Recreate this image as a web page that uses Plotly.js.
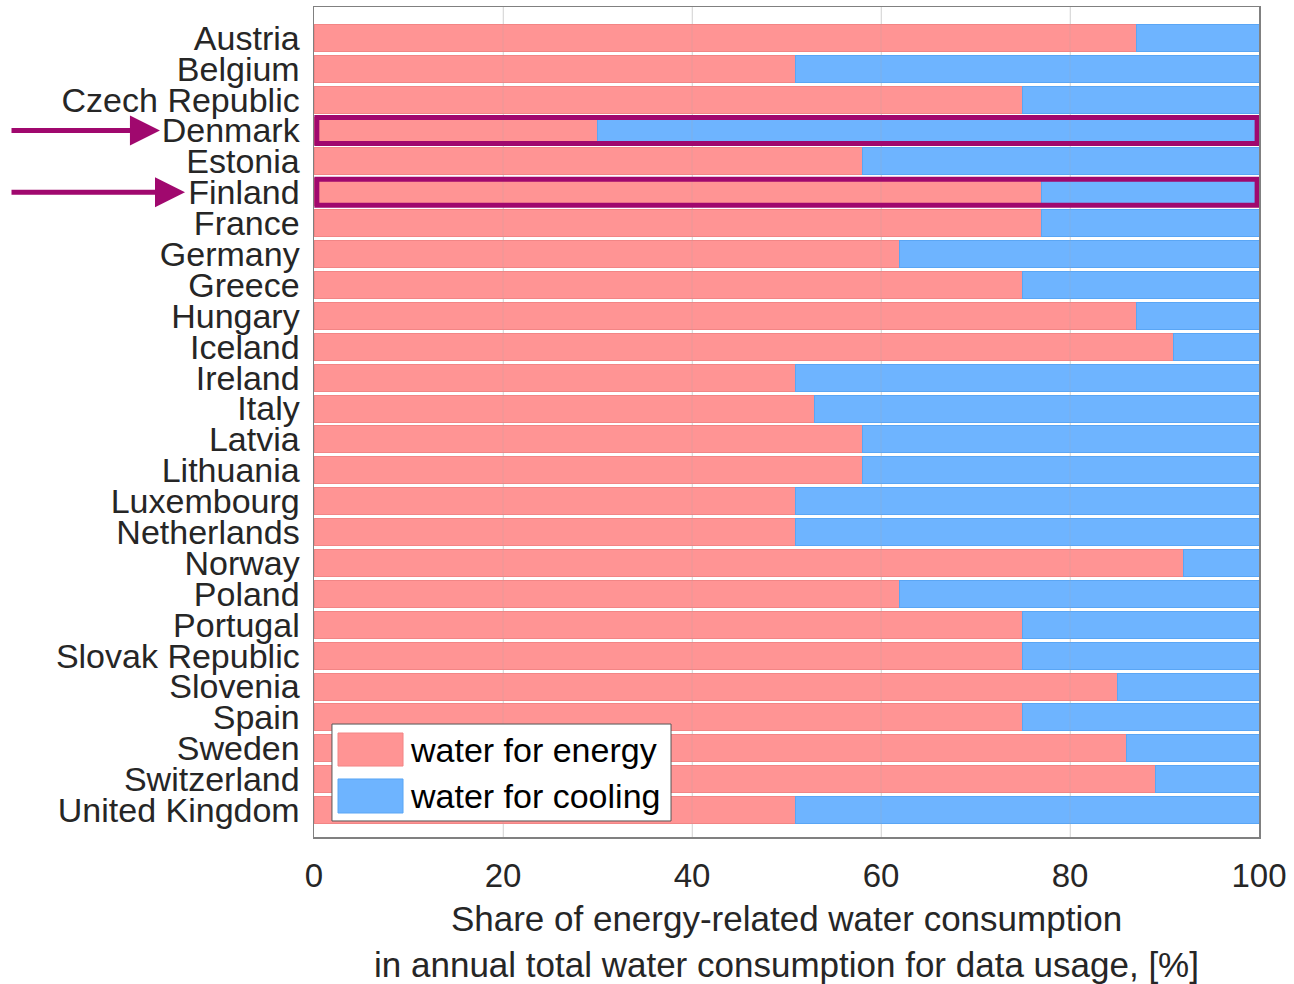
<!DOCTYPE html>
<html>
<head>
<meta charset="utf-8">
<script src="https://cdn.plot.ly/plotly-3.0.1.min.js"></script>
<style>html,body{margin:0;padding:0;background:#fff;}#chart{width:1294px;height:984px;}</style>
</head>
<body>
<div id="chart"></div>
<script>
const countries = ["Austria","Belgium","Czech Republic","Denmark","Estonia","Finland","France","Germany","Greece","Hungary","Iceland","Ireland","Italy","Latvia","Lithuania","Luxembourg","Netherlands","Norway","Poland","Portugal","Slovak Republic","Slovenia","Spain","Sweden","Switzerland","United Kingdom"];
const waterForEnergy = [87,51,75,30,58,77,77,62,75,87,91,51,53,58,58,51,51,92,62,75,75,85,75,86,89,51];
const waterForCooling = waterForEnergy.map(v => 100 - v);
const highlighted = ["Denmark","Finland"];
const xTicks = [0,20,40,60,80,100];
const seriesNames = ["water for energy","water for cooling"];

const RED = "#FF9494", BLUE = "#6EB4FF", PURPLE = "#A0086E";
const FONT = "Liberation Sans, Arial, sans-serif";
const TXT = "#262626";

const traces = [
  {type:"bar", orientation:"h", y:countries, x:waterForEnergy, name:seriesNames[0],
   marker:{color:RED, line:{color:"#F28585", width:1}}, hoverinfo:"x+y"},
  {type:"bar", orientation:"h", y:countries, x:waterForCooling, name:seriesNames[1],
   marker:{color:BLUE, line:{color:"#5AA6F5", width:1}}, hoverinfo:"x+y"}
];

const shapes = [];
xTicks.filter(t => t > 0 && t < 100).forEach(t => {
  shapes.push({type:"line", xref:"x", yref:"paper", x0:t, x1:t, y0:0, y1:1,
    line:{color:"rgba(170,170,170,0.25)", width:1}, layer:"above"});
});
highlighted.forEach(c => {
  const i = countries.indexOf(c);
  shapes.push({type:"rect", xref:"x", yref:"y", x0:0.3, x1:99.8, y0:i-0.42, y1:i+0.42,
    line:{color:PURPLE, width:5}, fillcolor:"rgba(0,0,0,0)", layer:"above"});
});
shapes.push({type:"rect", xref:"paper", yref:"paper", x0:0.019, x1:0.3778, y0:0.0193, y1:0.1361,
  line:{color:"#555", width:1}, fillcolor:"#fff", layer:"above"});
shapes.push({type:"rect", xref:"paper", yref:"paper", x0:0.0254, x1:0.0942, y0:0.0855, y1:0.1253,
  line:{color:"#F28585", width:1}, fillcolor:RED, layer:"above"});
shapes.push({type:"rect", xref:"paper", yref:"paper", x0:0.0254, x1:0.0942, y0:0.0289, y1:0.0699,
  line:{color:"#5AA6F5", width:1}, fillcolor:BLUE, layer:"above"});

const annotations = [
  {xref:"paper", yref:"paper", x:0.0995, y:0.1054, xanchor:"left", yanchor:"middle", showarrow:false,
   text:seriesNames[0], font:{family:FONT, size:34, color:"#000"}},
  {xref:"paper", yref:"paper", x:0.0995, y:0.0494, xanchor:"left", yanchor:"middle", showarrow:false,
   text:seriesNames[1], font:{family:FONT, size:34, color:"#000"}}
];
const arrowTips = {"Denmark": -0.163, "Finland": -0.1365};
highlighted.forEach(c => {
  const tip = arrowTips[c];
  annotations.push({xref:"paper", yref:"y", x:tip, y:c, axref:"pixel", ayref:"pixel",
    ax:-(tip*945 + 314 - 10), ay:0, showarrow:true, arrowhead:2, arrowsize:1.2, arrowwidth:5,
    arrowcolor:PURPLE, standoff:0, text:""});
});

const layout = {
  width:1294, height:984,
  margin:{l:314, r:35, t:7, b:147},
  paper_bgcolor:"#fff", plot_bgcolor:"#fff",
  barmode:"stack", bargap:0.125,
  showlegend:false,
  font:{family:FONT, size:33, color:TXT},
  xaxis:{range:[0,100], tickmode:"array", tickvals:xTicks, ticktext:xTicks.map(String),
    showgrid:true, gridcolor:"#e3e3e3", gridwidth:1, zeroline:false,
    showline:true, mirror:true, linecolor:"#808080", linewidth:1.5,
    ticks:"outside", ticklen:9, tickcolor:"rgba(0,0,0,0)",
    tickfont:{family:FONT, size:33, color:TXT},
    title:{text:"Share of energy-related water consumption<br>in annual total water consumption for data usage, [%]",
      font:{family:FONT, size:35, color:TXT}, standoff:17}},
  yaxis:{range:[25.87,-1], type:"category", tickmode:"array", tickvals:countries, ticktext:countries,
    showgrid:false, zeroline:false,
    showline:true, mirror:true, linecolor:"#808080", linewidth:1.5,
    ticks:"outside", ticklen:6, tickcolor:"rgba(0,0,0,0)",
    tickfont:{family:FONT, size:34, color:TXT}},
  shapes:shapes,
  annotations:annotations
};

Plotly.newPlot("chart", traces, layout, {displayModeBar:false, staticPlot:true});
</script>
</body>
</html>
